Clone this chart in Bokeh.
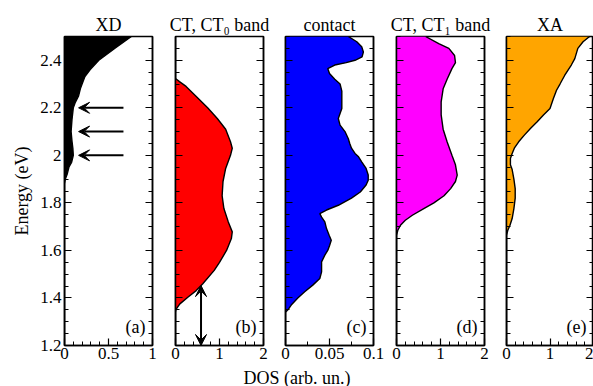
from bokeh.plotting import figure
from bokeh.layouts import row, column
from bokeh.models import (LinearAxis, FixedTicker, CustomJSTickFormatter, Range1d,
                          Arrow, VeeHead, Label, CustomLabelingPolicy)
from bokeh.embed import file_html
from bokeh.resources import INLINE

# ---------------- data ----------------
titles = ["XD", "CT, CT\u2080 band", "contact", "CT, CT\u2081 band", "XA"]
tags = ["(a)", "(b)", "(c)", "(d)", "(e)"]
colors = ["black", "#ff0000", "#0000ff", "#ff00ff", "#ffa500"]
xmax = [1, 2, 0.1, 2, 2]

E_a = [1.2, 1.88, 1.9, 1.92, 1.95, 1.97, 2.0, 2.03, 2.06, 2.1, 2.15, 2.2, 2.22,
       2.25, 2.28, 2.3, 2.33, 2.36, 2.4, 2.45, 2.5]
dos_a = [0, 0, 0.01, 0.03, 0.05, 0.08, 0.10, 0.095, 0.085, 0.075, 0.085, 0.10, 0.12,
         0.16, 0.18, 0.20, 0.23, 0.29, 0.39, 0.57, 0.76]

E_b = [1.2, 1.34, 1.35, 1.36, 1.375, 1.403, 1.431, 1.46, 1.516, 1.55, 1.6, 1.65,
       1.678, 1.72, 1.776, 1.83, 1.89, 1.945, 2.0, 2.03, 2.057, 2.11, 2.155, 2.2,
       2.25, 2.29, 2.31, 2.323, 2.5]
dos_b = [0, 0, 0.01, 0.04, 0.10, 0.28, 0.47, 0.62, 0.88, 1.0, 1.16, 1.27,
         1.29, 1.20, 1.10, 1.06, 1.08, 1.14, 1.25, 1.29, 1.25, 1.14, 0.95, 0.73,
         0.46, 0.24, 0.09, 0, 0]

E_c = [1.2, 1.34, 1.35, 1.37, 1.4, 1.426, 1.454, 1.482, 1.51, 1.53, 1.552, 1.58,
       1.6, 1.62, 1.643, 1.664, 1.692, 1.72, 1.74, 1.755, 1.77, 1.79, 1.82, 1.846,
       1.875, 1.895, 1.917, 1.945, 1.973, 1.994, 2.008, 2.03, 2.05, 2.07, 2.1,
       2.127, 2.155, 2.176, 2.197, 2.23, 2.25, 2.27, 2.3, 2.32, 2.344, 2.365, 2.38,
       2.39, 2.4, 2.414, 2.435, 2.457, 2.478, 2.5]
dos_c = [0, 0, 0.0027, 0.0065, 0.014, 0.0218, 0.031, 0.039, 0.041, 0.041, 0.041, 0.0447,
         0.048, 0.050, 0.052, 0.0496, 0.0466, 0.0447, 0.041, 0.039, 0.0466, 0.060, 0.075, 0.085,
         0.0916, 0.094, 0.094, 0.0916, 0.0866, 0.083, 0.079, 0.075, 0.073, 0.0714, 0.0676,
         0.062, 0.060, 0.062, 0.064, 0.064, 0.064, 0.064, 0.062, 0.056, 0.050, 0.048, 0.056,
         0.069, 0.079, 0.087, 0.0885, 0.0866, 0.081, 0.0714]

E_d = [1.2, 1.664, 1.685, 1.706, 1.727, 1.748, 1.776, 1.80, 1.83, 1.86, 1.89, 1.917,
       1.96, 2.0, 2.057, 2.11, 2.17, 2.225, 2.28, 2.32, 2.365, 2.39, 2.42, 2.45,
       2.47, 2.5]
dos_d = [0, 0, 0.03, 0.09, 0.20, 0.36, 0.62, 0.85, 1.08, 1.23, 1.34, 1.38,
         1.34, 1.26, 1.15, 1.06, 1.015, 1.015, 1.06, 1.15, 1.26, 1.34, 1.32, 1.19,
         0.96, 0.66]

E_e = [1.2, 1.664, 1.685, 1.706, 1.734, 1.776, 1.82, 1.86, 1.90, 1.94, 1.96, 1.987,
       2.008, 2.03, 2.057, 2.085, 2.113, 2.14, 2.17, 2.197, 2.24, 2.274, 2.3, 2.337,
       2.38, 2.407, 2.45, 2.478, 2.5]
dos_e = [0, 0, 0.03, 0.08, 0.13, 0.17, 0.20, 0.20, 0.17, 0.13, 0.09, 0.09,
         0.13, 0.18, 0.28, 0.41, 0.55, 0.70, 0.85, 1.0, 1.08, 1.15, 1.23, 1.34,
         1.49, 1.57, 1.64, 1.76, 1.91]

energies = [E_a, E_b, E_c, E_d, E_e]
doses = [dos_a, dos_b, dos_c, dos_d, dos_e]

xticks = [[0, 0.5, 1], [0, 1, 2], [0, 0.05, 0.1], [0, 1, 2], [0, 1, 2]]
xminor_a = [0.1, 0.2, 0.3, 0.4, 0.6, 0.7, 0.8, 0.9]
xminor_2 = [0.2, 0.4, 0.6, 0.8, 1.2, 1.4, 1.6, 1.8]
xminor_c = [0.025, 0.075]
xminors = [xminor_a, xminor_2, xminor_c, xminor_2, xminor_2]
y_major = [1.2, 1.4, 1.6, 1.8, 2.0, 2.2, 2.4]
y_minor = [1.25, 1.3, 1.35, 1.45, 1.5, 1.55, 1.65, 1.7, 1.75, 1.85, 1.9, 1.95,
           2.05, 2.1, 2.15, 2.25, 2.3, 2.35, 2.45, 2.5]

xd_arrow_E = [2.0, 2.1, 2.2]      # arrows in panel (a)
xd_arrow_from, xd_arrow_to = 0.67, 0.16
gap_x, gap_E0, gap_E1 = 0.58, 1.2, 1.452   # double arrow in panel (b)

# ---------------- styling / layout ----------------
FONT = "Liberation Serif"
FRAME_W = [88, 88, 88, 88, 87]
BL = [64, 12, 11, 12, 11]
BR = [11, 11, 11, 11, 0]
ROW_H = 368
fmt = CustomJSTickFormatter(code="return (Math.round(tick*1000)/1000).toString();")


def style_axis(ax, show_labels):
    ax.axis_line_width = 1.5
    ax.axis_line_color = "black"
    ax.major_tick_in = 7
    ax.major_tick_out = 0
    ax.minor_tick_in = 4
    ax.minor_tick_out = 0
    ax.major_tick_line_width = 1.2
    ax.minor_tick_line_width = 1.0
    ax.major_label_text_font = FONT
    ax.major_label_text_color = "black"
    if show_labels:
        ax.major_label_text_font_size = "17px"
        ax.major_label_standoff = 2
    else:
        ax.major_label_text_font_size = "0px"
        ax.major_label_standoff = 0
        ax.major_label_policy = CustomLabelingPolicy(
            code="for (const i of indices) { if (false) { yield i } }")


figs = []
for i in range(5):
    p = figure(width=BL[i] + FRAME_W[i] + BR[i], height=ROW_H,
               x_range=Range1d(0, xmax[i]), y_range=Range1d(1.2, 2.5),
               x_axis_type=None, y_axis_type=None,
               output_backend="svg", toolbar_location=None,
               min_border_left=BL[i], min_border_right=BR[i],
               min_border_top=36, min_border_bottom=ROW_H - 36 - 309)
    p.grid.visible = False
    p.outline_line_color = "black"
    p.outline_line_width = 1.5
    p.background_fill_color = "white"
    p.border_fill_color = "white"

    p.title.text = titles[i]
    p.title.align = "center"
    p.title.text_font = FONT
    p.title.text_font_style = "normal"
    p.title.text_font_size = "18px"
    p.title.text_color = "black"
    p.title.standoff = 4

    xb = LinearAxis(ticker=FixedTicker(ticks=xticks[i], minor_ticks=xminors[i]),
                    formatter=fmt)
    style_axis(xb, True)
    p.add_layout(xb, "below")

    yl = LinearAxis(ticker=FixedTicker(ticks=y_major, minor_ticks=y_minor), formatter=fmt)
    style_axis(yl, i == 0)
    if i == 0:
        yl.axis_label = "Energy (eV)"
        yl.axis_label_text_font = FONT
        yl.axis_label_text_font_style = "normal"
        yl.axis_label_text_font_size = "18px"
        yl.axis_label_text_color = "black"
        yl.axis_label_standoff = 5
        yl.major_label_standoff = 3
    p.add_layout(yl, "left")

    yr = LinearAxis(ticker=FixedTicker(ticks=y_major, minor_ticks=y_minor), formatter=fmt)
    style_axis(yr, False)
    p.add_layout(yr, "right")

    p.harea(y=energies[i], x1=0, x2=doses[i], fill_color=colors[i], fill_alpha=1.0)
    p.line(x=doses[i], y=energies[i], line_color="black", line_width=1.4)

    p.add_layout(Label(x=0.92 * xmax[i], y=1.276, text=tags[i], text_align="right",
                       text_baseline="middle", text_font=FONT, text_font_size="18px",
                       text_color="black"))
    figs.append(p)

# arrows in (a)
for e in xd_arrow_E:
    figs[0].add_layout(Arrow(x_start=xd_arrow_from, y_start=e, x_end=xd_arrow_to, y_end=e,
                             line_width=2, line_color="black",
                             end=VeeHead(size=11, fill_color="black", line_color="black")))
# double arrow in (b)
figs[1].add_layout(Arrow(x_start=gap_x, y_start=gap_E0, x_end=gap_x, y_end=gap_E1,
                         line_width=2, line_color="black",
                         start=VeeHead(size=11, fill_color="black", line_color="black"),
                         end=VeeHead(size=11, fill_color="black", line_color="black")))

# x axis title as a thin strip under the panels
lab = figure(width=593, height=386 - ROW_H, x_range=Range1d(0, 1), y_range=Range1d(0, 1),
             x_axis_type=None, y_axis_type=None, output_backend="svg",
             toolbar_location=None, min_border=0)
lab.grid.visible = False
lab.outline_line_color = None
lab.add_layout(Label(x=0.5, y=0.5, text="DOS (arb. un.)", text_align="center",
                     text_baseline="middle", text_font=FONT, text_font_size="18px",
                     text_color="black"))

layout = column(row(*figs, spacing=0), lab, spacing=0)
open("out.html", "w").write(file_html(layout, INLINE))
